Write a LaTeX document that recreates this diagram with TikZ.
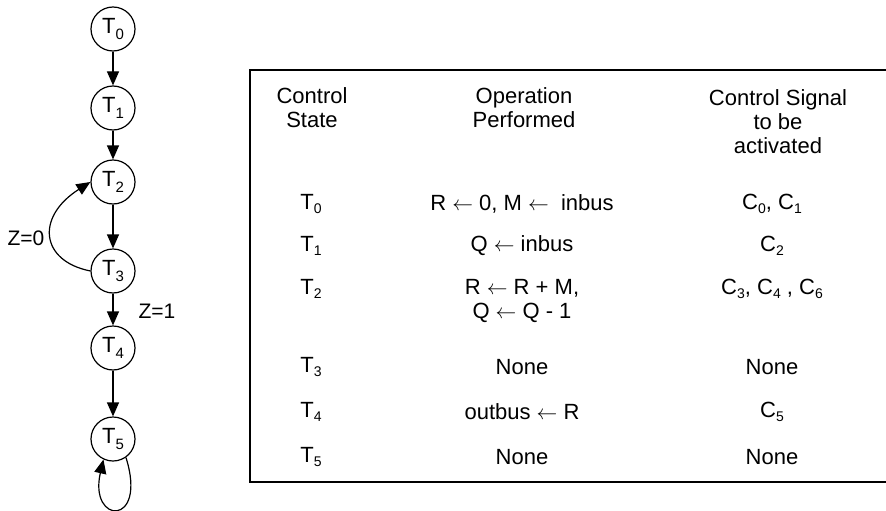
\documentclass[tikz,border=0pt]{standalone}
\usepackage{fontspec}
\setmainfont{Liberation Sans}
\usetikzlibrary{arrows.meta,positioning}
\newcommand{\lowsub}[1]{\raisebox{-0.3ex}{\fontsize{14}{14}\selectfont #1}}
\newcommand{\Tlab}[1]{T\raisebox{-0.55ex}{\fontsize{15}{15}\selectfont #1}}
\newcommand{\Ts}[1]{T\lowsub{#1}}
\newcommand{\Cs}[1]{C\lowsub{#1}}
\newcommand{\la}{\ensuremath{\leftarrow}}
\tikzset{
  statenode/.style={draw, circle, minimum size=44pt, inner sep=0pt, line width=1.2pt,
                    font=\fontsize{22}{24}\selectfont},
  arrow/.style={-{Triangle[length=14pt, width=12pt]}, line width=1.2pt},
  cond/.style={font=\fontsize{21}{24}\selectfont},
  cell/.style={font=\fontsize{22}{24}\selectfont, align=center, inner sep=0pt},
  frame/.style={line width=2pt},
}

\begin{document}
\begin{tikzpicture}[x=1pt, y=-1pt]
\useasboundingbox (0,0) rectangle (886,511);

% ---------------- state graph ----------------
\foreach \i/\y in {0/29, 1/108, 2/182, 3/271, 4/348, 5/439} {
  \node[statenode] (T\i) at (113,\y) {\Tlab{\i}};
}
\draw[arrow] (T0) -- (T1);
\draw[arrow] (T1) -- (T2);
\draw[arrow] (T2) -- (T3);
\draw[arrow] (T3) -- (T4);
\draw[arrow] (T4) -- (T5);

% branch back while Z=0, self loop at the end
\draw[arrow] (T3.west) .. controls +(-50,-10) and +(-55,35) .. (T2.west);
\draw[arrow] (T5.-55) .. controls +(22,70) and +(-15,65) .. (T5.-115);
\node[cond] (z0) at (26,238) {Z=0};
\node[cond] (z1) at (157,311) {Z=1};

% ---------------- control table ----------------
\draw[frame] (886,70) -- (250,70) -- (250,482) -- (886,482);

\node[cell] (h1) at (312,108) {Control\\State};
\node[cell] (h2) at (524,108) {Operation\\Performed};
\node[cell] (h3) at (778,122) {Control Signal\\to be\\activated};

\foreach \i/\y/\op/\sig in {%
    0/204/{R \la\ 0, M \la\ \ inbus}/{\Cs{0}, \Cs{1}},
    1/246/{Q \la\ inbus}/{\Cs{2}},
    3/367/{None}/{None},
    4/412/{outbus \la\ R}/{\Cs{5}},
    5/457/{None}/{None}} {
  \node[cell] (s\i) at (311,\y) {\Ts{\i}};
  \node[cell] (o\i) at (522,\y) {\op};
  \node[cell] (c\i) at (772,\y) {\sig};
}
% T2 needs two lines
\node[cell] (s2) at (311,289) {\Ts{2}};
\node[cell] (o2) at (522,301) {R \la\ R + M,\\Q \la\ Q - 1};
\node[cell] (c2) at (772,289) {\Cs{3}, \Cs{4} , \Cs{6}};
\end{tikzpicture}
\end{document}
